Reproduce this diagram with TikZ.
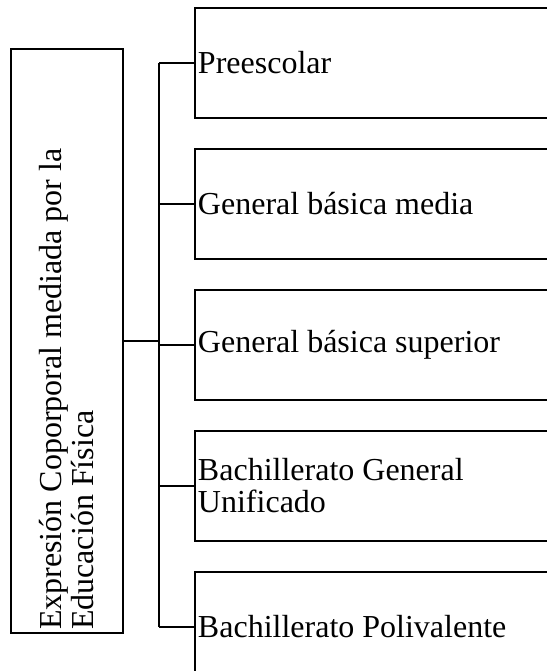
\documentclass[tikz,border=0pt]{standalone}
\usepackage{fontspec}
\setmainfont{Liberation Serif}
\usetikzlibrary{positioning}
\tikzset{
  tbox/.style={draw, line width=1pt, align=flush left, font=\fontsize{16}{16}\selectfont,
               text width=289pt, minimum width=292pt, minimum height=56pt,
               inner sep=1.5pt, rotate=90},
  lvbox/.style={draw, line width=1pt, align=flush left, font=\fontsize{16}{16}\selectfont,
               text width=190pt, minimum height=55pt, inner sep=1.5pt},
  branch/.style={line width=1pt},
}
\begin{document}
\begin{tikzpicture}[x=0.5pt, y=0.5pt, node distance=14.5pt]
  \useasboundingbox (0,0) rectangle (547,671);
  \clip (0,0) rectangle (547,671);
  \node[tbox] (expr) at (67,330) {Expresión Coporporal mediada por la Educación Física};
  \node[lvbox, anchor=west] (pre) at (194,608) {Preescolar};
  \node[lvbox, below=of pre] (gbm) {General básica media};
  \node[lvbox, below=of gbm] (gbs) {General básica superior};
  \node[lvbox, below=of gbs] (bgu) {Bachillerato General Unificado};
  \node[lvbox, below=of bgu] (bpv) {Bachillerato Polivalente};
  \coordinate (spine) at (159,330);
  \draw[branch] (spine |- pre.west) -- (spine |- bpv.west);
  \draw[branch, line width=1.4pt] (expr.south) -- (spine);
  \foreach \n in {pre,gbm,gbs,bgu,bpv}
    \draw[branch] (spine |- \n.west) -- (\n.west);
\end{tikzpicture}
\end{document}
